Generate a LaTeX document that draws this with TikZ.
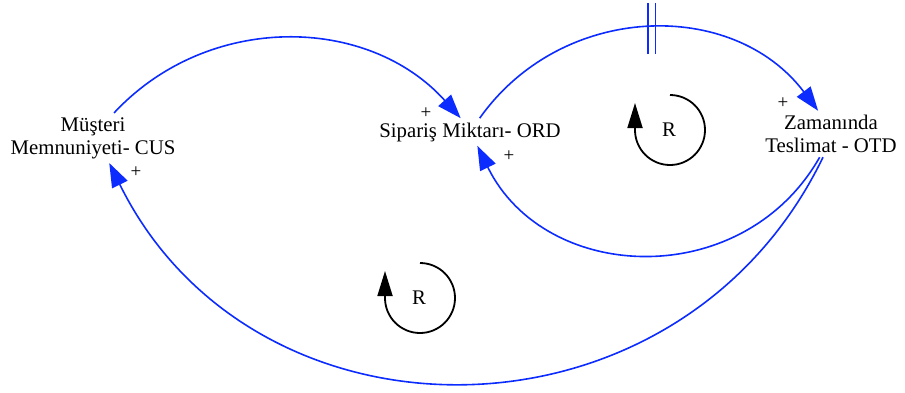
\documentclass[tikz,border=0pt]{standalone}
\usepackage{fontspec}
\setmainfont{Liberation Serif}
\usepackage{tikz}
\usetikzlibrary{arrows.meta}
\definecolor{linkblue}{RGB}{12,44,255}
\definecolor{ink}{RGB}{0,0,0}

\begin{document}
\begin{tikzpicture}[x=0.5pt,y=-0.5pt,
    font=\fontsize{10.4}{11.5}\selectfont,
    var/.style={align=center,inner sep=2pt,text=ink},
    link/.style={linkblue,line width=0.8pt,-{Triangle[length=12pt,width=8.5pt]}},
    sign/.style={text=ink,font=\fontsize{9.5}{10}\selectfont,inner sep=0pt},
    delaybox/.style={minimum width=3pt,minimum height=25pt,inner sep=0pt},
    loopmark/.style={ink,line width=0.9pt,-{Triangle[length=12.5pt,width=7.5pt]}}]
    \useasboundingbox (0,0) rectangle (905,392);
    % variables
    \node[var] (cus) at (93,138) {Müşteri\\Memnuniyeti- CUS};
    \node[var] (ord) at (470,132) {Sipariş Miktarı- ORD};
    \node[var] (otd) at (831,134) {Zamanında\\Teslimat - OTD};
    % links
    \draw[link] (cus.50) .. controls (208,12) and (368,15) .. (ord.124);
    \draw[link] (ord.55) .. controls (562,2) and (733,-2) .. (otd.119)
      node[pos=0.51,delaybox] (gap) {};
    \draw[linkblue,line width=0.8pt] (gap.north west) -- (gap.south west)
      (gap.north east) -- (gap.south east);
    \draw[link] (otd.-116) .. controls (743,292) and (545,284) .. (ord.-62);
    \draw[link] (otd.-109) .. controls (679,455) and (254,457) .. (cus.-57);
    % polarities
    \node[sign] (s1) at (426,113) {+};
    \node[sign] (s2) at (783,103) {+};
    \node[sign] (s3) at (509,156) {+};
    \node[sign] (s4) at (136,172) {+};
    % loop markers
    \node[text=ink] (r1) at (669,130) {R};
    \draw[loopmark] (670,95) arc[start angle=-90,end angle=180,radius=35] -- ++(0,-27);
    \node[text=ink] (r2) at (419,298) {R};
    \draw[loopmark] (420,263) arc[start angle=-90,end angle=180,radius=35] -- ++(0,-27);
  \end{tikzpicture}
\end{document}
